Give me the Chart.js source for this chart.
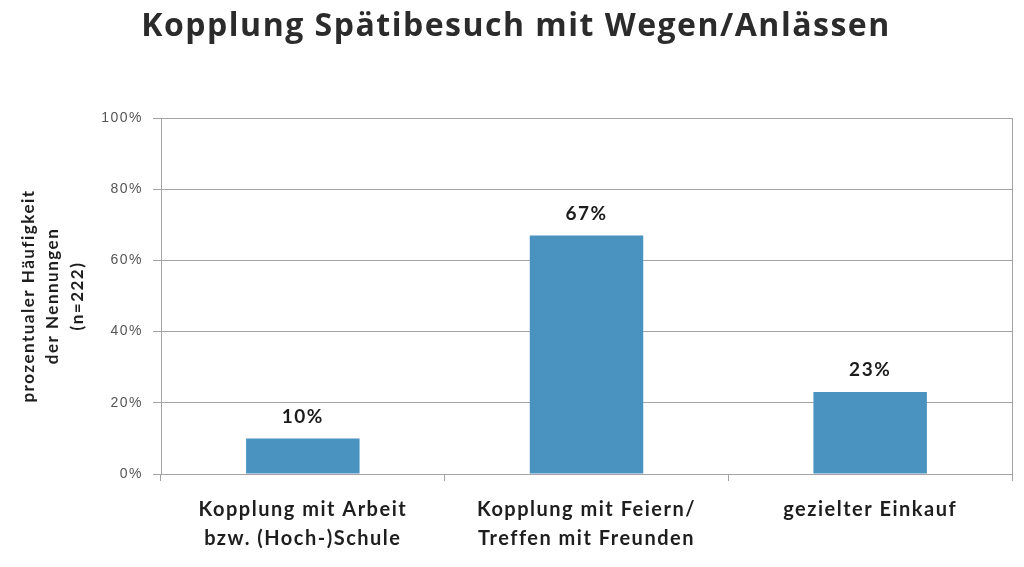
<!DOCTYPE html>
<html>
<head>
<meta charset="utf-8">
<script src="https://cdn.jsdelivr.net/npm/chart.js@4"></script>
<style>
  html, body { margin: 0; padding: 0; background: #ffffff; }
  #wrap { width: 1024px; height: 567px; }
</style>
</head>
<body>
<div id="wrap"><canvas id="c" width="1024" height="567"></canvas></div>
<script>
const titleText = "Kopplung Spätibesuch mit Wegen/Anlässen";
const categories = [
  ["Kopplung mit Arbeit", "bzw. (Hoch-)Schule"],
  ["Kopplung mit Feiern/", "Treffen mit Freunden"],
  ["gezielter Einkauf"]
];
const values = [10, 67, 23];
const valueLabels = ["10%", "67%", "23%"];
const yAxisTitle = ["prozentualer Häufigkeit", "der Nennungen", "(n=222)"];
const yTicks = [0, 20, 40, 60, 80, 100];

const gridColor = "#a3a3a3";
const SPACING = "1.5px";

const spacingPlugin = {
  id: "letterSpacing",
  beforeUpdate(chart) { chart.ctx.letterSpacing = SPACING; },
  beforeDraw(chart) { chart.ctx.letterSpacing = SPACING; }
};

const valueLabelPlugin = {
  id: "valueLabels",
  afterDatasetsDraw(chart) {
    const ctx = chart.ctx;
    const meta = chart.getDatasetMeta(0);
    ctx.save();
    ctx.letterSpacing = SPACING;
    ctx.font = "bold 19px Lato";
    ctx.fillStyle = "#1c1c1c";
    ctx.textAlign = "center";
    ctx.textBaseline = "middle";
    meta.data.forEach((el, i) => {
      ctx.fillText(valueLabels[i], el.x, el.y - 22);
    });
    ctx.restore();
  }
};

new Chart(document.getElementById("c"), {
  type: "bar",
  data: {
    labels: categories,
    datasets: [{
      data: values,
      backgroundColor: "#4a93c1",
      borderWidth: 0,
      categoryPercentage: 1.0,
      barPercentage: 0.4
    }]
  },
  options: {
    responsive: false,
    animation: false,
    devicePixelRatio: 1,
    layout: { padding: { left: 8, right: 0, top: 0, bottom: 0 } },
    plugins: {
      legend: { display: false },
      tooltip: { enabled: false },
      title: {
        display: true,
        text: titleText,
        color: "#2b2b2b",
        font: { family: "Open Sans", weight: "bold", size: 32, lineHeight: 1.2 },
        padding: { top: 8, bottom: 71.6 }
      }
    },
    scales: {
      x: {
        grid: { display: true, drawOnChartArea: false, drawTicks: true, tickLength: 7, color: gridColor, offset: true },
        border: { display: true, color: gridColor },
        ticks: {
          color: "#1e1e1e",
          font: { family: "Lato", weight: "bold", size: 20, lineHeight: 1.45 },
          padding: 14.5,
          maxRotation: 0,
          autoSkip: false
        },
        afterFit(s) { s.height = 93; }
      },
      y: {
        min: 0,
        max: 100,
        afterBuildTicks(s) { s.ticks = yTicks.map(v => ({ value: v })); },
        grid: { color: gridColor, tickLength: 8, drawTicks: true },
        border: { display: true, color: gridColor },
        ticks: {
          color: "#555555",
          font: { family: "Liberation Sans", size: 14 },
          padding: 10,
          callback: v => v + "%"
        },
        title: {
          display: true,
          text: yAxisTitle,
          color: "#1e1e1e",
          font: { family: "Lato", weight: "bold", size: 17, lineHeight: 1.44 },
          padding: { top: 8, bottom: 0 }
        },
        afterFit(s) { s.width = 153; }
      },
      y2: {
        position: "right",
        min: 0,
        max: 100,
        grid: { display: false },
        border: { display: true, color: gridColor },
        ticks: { display: false },
        afterFit(s) { s.width = 12; }
      }
    }
  },
  plugins: [spacingPlugin, valueLabelPlugin]
});
</script>
</body>
</html>
